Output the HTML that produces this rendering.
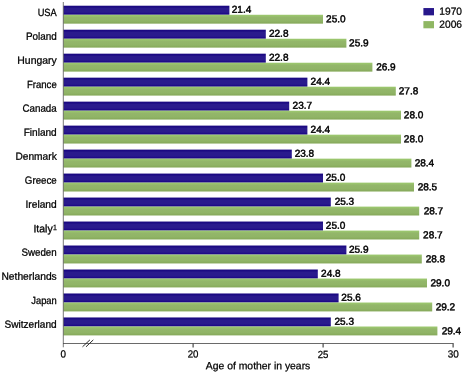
<!DOCTYPE html>
<html><head><meta charset="utf-8"><title>Age of mother</title>
<style>
html,body{margin:0;padding:0;background:#fff;}
body{width:466px;height:375px;overflow:hidden;}
svg{display:block;}
text{font-family:"Liberation Sans","DejaVu Sans",sans-serif;fill:#000;stroke:#000;text-rendering:geometricPrecision;}
.lab{font-size:10.4px;stroke-width:0.27px;}
.val{font-size:10.0px;stroke-width:0.45px;}
.tick{font-size:10.4px;stroke-width:0.25px;}
.ttl{font-size:10.4px;stroke-width:0.25px;text-anchor:middle;}
.leg{font-size:10.4px;stroke-width:0.25px;}
</style></head><body>
<svg width="466" height="375" viewBox="0 0 466 375">
<defs>
<linearGradient id="gb" x1="0" y1="0" x2="0" y2="1"><stop offset="0" stop-color="#190680"/><stop offset="0.16" stop-color="#1d0c84"/><stop offset="0.3" stop-color="#2a1a8d"/><stop offset="0.72" stop-color="#2a1a8d"/><stop offset="0.86" stop-color="#1f0b88"/><stop offset="1" stop-color="#1c0786"/></linearGradient>
<linearGradient id="gg" x1="0" y1="0" x2="0" y2="1"><stop offset="0" stop-color="#9cc86e"/><stop offset="0.12" stop-color="#9ac46d"/><stop offset="0.28" stop-color="#93b66a"/><stop offset="0.72" stop-color="#90b466"/><stop offset="0.88" stop-color="#89ac5e"/><stop offset="1" stop-color="#89ac5e"/></linearGradient>
</defs>
<rect width="466" height="375" fill="#ffffff"/>
<rect x="63.45" y="5.72" width="165.95" height="9.05" fill="url(#gb)"/>
<rect x="63.45" y="14.77" width="259.55" height="8.9" fill="url(#gg)"/>
<text class="lab" x="37.65" y="15.85" transform="rotate(0.03 37.65 15.85)" textLength="19.10" lengthAdjust="spacingAndGlyphs">USA</text>
<text class="val" x="231.75" y="12.75" transform="rotate(0.03 231.75 12.75)" textLength="19.55" lengthAdjust="spacingAndGlyphs">21.4</text>
<text class="val" x="326.05" y="22.35" transform="rotate(0.03 326.05 22.35)" textLength="19.55" lengthAdjust="spacingAndGlyphs">25.0</text>
<rect x="63.45" y="29.70" width="202.35" height="9.05" fill="url(#gb)"/>
<rect x="63.45" y="38.75" width="282.95" height="8.9" fill="url(#gg)"/>
<text class="lab" x="25.95" y="39.85" transform="rotate(0.03 25.95 39.85)" textLength="30.80" lengthAdjust="spacingAndGlyphs">Poland</text>
<text class="val" x="268.95" y="36.75" transform="rotate(0.03 268.95 36.75)" textLength="19.55" lengthAdjust="spacingAndGlyphs">22.8</text>
<text class="val" x="349.05" y="46.35" transform="rotate(0.03 349.05 46.35)" textLength="19.55" lengthAdjust="spacingAndGlyphs">25.9</text>
<rect x="63.45" y="53.68" width="202.35" height="9.05" fill="url(#gb)"/>
<rect x="63.45" y="62.73" width="308.95" height="8.9" fill="url(#gg)"/>
<text class="lab" x="17.35" y="63.85" transform="rotate(0.03 17.35 63.85)" textLength="39.40" lengthAdjust="spacingAndGlyphs">Hungary</text>
<text class="val" x="268.95" y="60.75" transform="rotate(0.03 268.95 60.75)" textLength="19.55" lengthAdjust="spacingAndGlyphs">22.8</text>
<text class="val" x="376.15" y="70.35" transform="rotate(0.03 376.15 70.35)" textLength="19.55" lengthAdjust="spacingAndGlyphs">26.9</text>
<rect x="63.45" y="77.66" width="243.95" height="9.05" fill="url(#gb)"/>
<rect x="63.45" y="86.71" width="332.35" height="8.9" fill="url(#gg)"/>
<text class="lab" x="26.95" y="87.85" transform="rotate(0.03 26.95 87.85)" textLength="29.80" lengthAdjust="spacingAndGlyphs">France</text>
<text class="val" x="310.60" y="84.75" transform="rotate(0.03 310.60 84.75)" textLength="19.55" lengthAdjust="spacingAndGlyphs">24.4</text>
<text class="val" x="398.75" y="94.35" transform="rotate(0.03 398.75 94.35)" textLength="19.55" lengthAdjust="spacingAndGlyphs">27.8</text>
<rect x="63.45" y="101.64" width="225.75" height="9.05" fill="url(#gb)"/>
<rect x="63.45" y="110.69" width="337.55" height="8.9" fill="url(#gg)"/>
<text class="lab" x="22.45" y="111.85" transform="rotate(0.03 22.45 111.85)" textLength="34.30" lengthAdjust="spacingAndGlyphs">Canada</text>
<text class="val" x="292.55" y="108.75" transform="rotate(0.03 292.55 108.75)" textLength="19.55" lengthAdjust="spacingAndGlyphs">23.7</text>
<text class="val" x="403.85" y="118.35" transform="rotate(0.03 403.85 118.35)" textLength="19.55" lengthAdjust="spacingAndGlyphs">28.0</text>
<rect x="63.45" y="125.62" width="243.95" height="9.05" fill="url(#gb)"/>
<rect x="63.45" y="134.67" width="337.55" height="8.9" fill="url(#gg)"/>
<text class="lab" x="23.65" y="135.85" transform="rotate(0.03 23.65 135.85)" textLength="33.10" lengthAdjust="spacingAndGlyphs">Finland</text>
<text class="val" x="310.60" y="132.75" transform="rotate(0.03 310.60 132.75)" textLength="19.55" lengthAdjust="spacingAndGlyphs">24.4</text>
<text class="val" x="403.85" y="142.35" transform="rotate(0.03 403.85 142.35)" textLength="19.55" lengthAdjust="spacingAndGlyphs">28.0</text>
<rect x="63.45" y="149.60" width="228.35" height="9.05" fill="url(#gb)"/>
<rect x="63.45" y="158.65" width="347.95" height="8.9" fill="url(#gg)"/>
<text class="lab" x="15.45" y="159.85" transform="rotate(0.03 15.45 159.85)" textLength="41.30" lengthAdjust="spacingAndGlyphs">Denmark</text>
<text class="val" x="294.65" y="156.75" transform="rotate(0.03 294.65 156.75)" textLength="19.55" lengthAdjust="spacingAndGlyphs">23.8</text>
<text class="val" x="414.65" y="166.35" transform="rotate(0.03 414.65 166.35)" textLength="19.55" lengthAdjust="spacingAndGlyphs">28.4</text>
<rect x="63.45" y="173.58" width="259.55" height="9.05" fill="url(#gb)"/>
<rect x="63.45" y="182.63" width="350.55" height="8.9" fill="url(#gg)"/>
<text class="lab" x="24.85" y="183.85" transform="rotate(0.03 24.85 183.85)" textLength="31.90" lengthAdjust="spacingAndGlyphs">Greece</text>
<text class="val" x="325.75" y="180.75" transform="rotate(0.03 325.75 180.75)" textLength="19.55" lengthAdjust="spacingAndGlyphs">25.0</text>
<text class="val" x="417.65" y="190.35" transform="rotate(0.03 417.65 190.35)" textLength="19.55" lengthAdjust="spacingAndGlyphs">28.5</text>
<rect x="63.45" y="197.56" width="267.35" height="9.05" fill="url(#gb)"/>
<rect x="63.45" y="206.61" width="355.75" height="8.9" fill="url(#gg)"/>
<text class="lab" x="25.45" y="207.85" transform="rotate(0.03 25.45 207.85)" textLength="31.30" lengthAdjust="spacingAndGlyphs">Ireland</text>
<text class="val" x="334.65" y="204.75" transform="rotate(0.03 334.65 204.75)" textLength="19.55" lengthAdjust="spacingAndGlyphs">25.3</text>
<text class="val" x="423.65" y="214.35" transform="rotate(0.03 423.65 214.35)" textLength="19.55" lengthAdjust="spacingAndGlyphs">28.7</text>
<rect x="63.45" y="221.54" width="259.55" height="9.05" fill="url(#gb)"/>
<rect x="63.45" y="230.59" width="355.75" height="8.9" fill="url(#gg)"/>
<text class="lab" x="33.40" y="232.35" transform="rotate(0.03 33.40 232.35)" textLength="19.30" lengthAdjust="spacingAndGlyphs" style="font-size:10.7px;stroke-width:0.3px">Italy</text>
<text class="lab" x="53.00" y="230.05" transform="rotate(0.03 53.00 230.05)" textLength="3.90" lengthAdjust="spacingAndGlyphs" style="font-size:7.6px;stroke-width:0.25px">1</text>
<text class="val" x="325.85" y="228.75" transform="rotate(0.03 325.85 228.75)" textLength="19.55" lengthAdjust="spacingAndGlyphs">25.0</text>
<text class="val" x="423.10" y="238.35" transform="rotate(0.03 423.10 238.35)" textLength="19.55" lengthAdjust="spacingAndGlyphs">28.7</text>
<rect x="63.45" y="245.52" width="282.95" height="9.05" fill="url(#gb)"/>
<rect x="63.45" y="254.57" width="358.35" height="8.9" fill="url(#gg)"/>
<text class="lab" x="21.45" y="255.85" transform="rotate(0.03 21.45 255.85)" textLength="35.30" lengthAdjust="spacingAndGlyphs">Sweden</text>
<text class="val" x="348.95" y="252.75" transform="rotate(0.03 348.95 252.75)" textLength="19.55" lengthAdjust="spacingAndGlyphs">25.9</text>
<text class="val" x="425.65" y="262.35" transform="rotate(0.03 425.65 262.35)" textLength="19.55" lengthAdjust="spacingAndGlyphs">28.8</text>
<rect x="63.45" y="269.50" width="254.35" height="9.05" fill="url(#gb)"/>
<rect x="63.45" y="278.55" width="363.55" height="8.9" fill="url(#gg)"/>
<text class="lab" x="1.45" y="279.85" transform="rotate(0.03 1.45 279.85)" textLength="55.30" lengthAdjust="spacingAndGlyphs">Netherlands</text>
<text class="val" x="321.05" y="276.75" transform="rotate(0.03 321.05 276.75)" textLength="19.55" lengthAdjust="spacingAndGlyphs">24.8</text>
<text class="val" x="430.45" y="286.35" transform="rotate(0.03 430.45 286.35)" textLength="19.55" lengthAdjust="spacingAndGlyphs">29.0</text>
<rect x="63.45" y="293.48" width="275.15" height="9.05" fill="url(#gb)"/>
<rect x="63.45" y="302.53" width="368.75" height="8.9" fill="url(#gg)"/>
<text class="lab" x="31.25" y="303.85" transform="rotate(0.03 31.25 303.85)" textLength="25.50" lengthAdjust="spacingAndGlyphs">Japan</text>
<text class="val" x="341.35" y="300.75" transform="rotate(0.03 341.35 300.75)" textLength="19.55" lengthAdjust="spacingAndGlyphs">25.6</text>
<text class="val" x="435.65" y="310.35" transform="rotate(0.03 435.65 310.35)" textLength="19.55" lengthAdjust="spacingAndGlyphs">29.2</text>
<rect x="63.45" y="317.46" width="267.35" height="9.05" fill="url(#gb)"/>
<rect x="63.45" y="326.51" width="373.95" height="8.9" fill="url(#gg)"/>
<text class="lab" x="4.45" y="327.85" transform="rotate(0.03 4.45 327.85)" textLength="52.30" lengthAdjust="spacingAndGlyphs">Switzerland</text>
<text class="val" x="334.45" y="324.75" transform="rotate(0.03 334.45 324.75)" textLength="19.55" lengthAdjust="spacingAndGlyphs">25.3</text>
<text class="val" x="441.65" y="334.35" transform="rotate(0.03 441.65 334.35)" textLength="19.55" lengthAdjust="spacingAndGlyphs">29.4</text>
<path d="M63.3 2 V347.3" fill="none" stroke="#484848" stroke-width="0.75"/>
<path d="M63 343.5 H453.6" fill="none" stroke="#444" stroke-width="0.8"/>
<text class="tick" x="60.50" y="357.50" transform="rotate(0.03 60.50 357.50)" textLength="5.50" lengthAdjust="spacingAndGlyphs">0</text>
<path d="M193.10 343.5 V347.4" stroke="#3a3a3a" stroke-width="1.1"/>
<text class="tick" x="187.65" y="357.50" transform="rotate(0.03 187.65 357.50)" textLength="10.80" lengthAdjust="spacingAndGlyphs">20</text>
<path d="M323.10 343.5 V347.4" stroke="#3a3a3a" stroke-width="1.1"/>
<text class="tick" x="317.70" y="357.50" transform="rotate(0.03 317.70 357.50)" textLength="10.70" lengthAdjust="spacingAndGlyphs">25</text>
<path d="M453.10 343.5 V347.4" stroke="#3a3a3a" stroke-width="1.1"/>
<text class="tick" x="447.75" y="357.50" transform="rotate(0.03 447.75 357.50)" textLength="11.10" lengthAdjust="spacingAndGlyphs">30</text>
<path d="M82.5 346.8 L89.9 339.9 M86.0 346.8 L93.3 339.9" stroke="#2d2d2d" stroke-width="1.0" fill="none"/>
<text class="ttl" x="258.05" y="369.2" transform="rotate(0.03 258.05 369.2)">Age of mother in years</text>
<rect x="423.4" y="8.05" width="10.6" height="7.3" fill="#27178b"/>
<rect x="423.4" y="21.1" width="10.6" height="7.2" fill="#8fb763"/>
<text class="leg" x="439.30" y="14.80" transform="rotate(0.03 439.30 14.80)" textLength="22.70" lengthAdjust="spacingAndGlyphs">1970</text>
<text class="leg" x="439.30" y="27.75" transform="rotate(0.03 439.30 27.75)" textLength="22.70" lengthAdjust="spacingAndGlyphs">2006</text>
</svg></body></html>
